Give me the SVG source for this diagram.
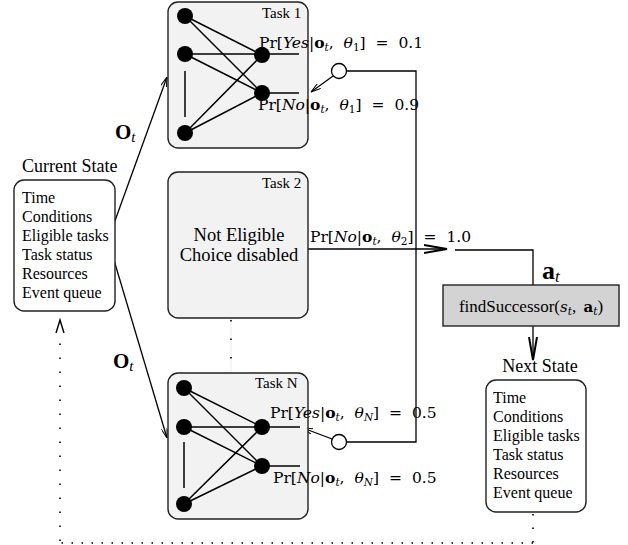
<svg xmlns="http://www.w3.org/2000/svg" width="628" height="545" viewBox="0 0 628 545">
<style>
.box{fill:#f2f2f2;stroke:#222;stroke-width:1.4}
.sbox{fill:#fff;stroke:#222;stroke-width:1.4}
.e{stroke:#000;stroke-width:1.5;fill:none}
.n{fill:#000}
.t{font-family:"Liberation Serif","Times New Roman",serif;fill:#000}
.m{font-family:"DejaVu Serif","Liberation Serif",serif;font-size:15.5px;word-spacing:5px;fill:#000}
.it{font-style:italic}
.bd{font-weight:bold}
.sub{font-size:10.5px;font-style:italic;font-weight:normal}
.subn{font-size:10.5px}
.ln{stroke:#000;stroke-width:1.3;fill:none}
.dot{stroke:#000;stroke-width:1.6;fill:none;stroke-linecap:butt}
</style>
<defs>
<marker id="arrS" viewBox="0 0 10 6" refX="10" refY="3" markerWidth="10" markerHeight="6" markerUnits="userSpaceOnUse" orient="auto">
<path d="M0,0 L10,3 L0,6" fill="none" stroke="#000" stroke-width="1"/>
</marker>
<marker id="arrL" viewBox="0 0 24 10" refX="23" refY="5" markerWidth="24" markerHeight="10" markerUnits="userSpaceOnUse" orient="auto">
<path d="M0,1 L23,5 L0,9" fill="none" stroke="#000" stroke-width="2"/>
</marker>
</defs>

<g id="connectors">
<line class="ln" x1="108" y1="240" x2="167" y2="77" marker-end="url(#arrS)"/>
<line class="ln" x1="108" y1="240" x2="167" y2="438" marker-end="url(#arrS)"/>
<text class="t bd" x="115" y="139" style="font-size:21px">O<tspan class="it" dy="3" style="font-size:15px;font-weight:normal">t</tspan></text>
<text class="t bd" x="113" y="368" style="font-size:21px">O<tspan class="it" dy="3" style="font-size:15px;font-weight:normal">t</tspan></text>
<circle cx="339" cy="71" r="7.5" fill="#fff" stroke="#000" stroke-width="1.3"/>
<circle cx="339" cy="442" r="7.5" fill="#fff" stroke="#000" stroke-width="1.3"/>
<polyline class="ln" points="346.5,71 416,71 416,442 346.5,442"/>
<line class="ln" x1="333" y1="76" x2="311" y2="92" marker-end="url(#arrS)"/>
<line class="ln" x1="332" y1="439" x2="303" y2="428" marker-end="url(#arrS)"/>
<line class="ln" x1="308" y1="249" x2="447" y2="249" marker-end="url(#arrL)"/>
<polyline class="ln" points="455,250 533,250 533,285"/>
<line class="ln" x1="533" y1="326" x2="533" y2="360" marker-end="url(#arrL)"/>
<text class="t bd" x="542" y="279" style="font-size:26px">a<tspan class="it" dy="3" style="font-size:17px;font-weight:normal">t</tspan></text>
<line x1="231" y1="319" x2="231" y2="372" stroke="#eee" stroke-width="1"/>
<line class="dot" x1="231" y1="320" x2="231" y2="372" stroke-dasharray="1.5 17"/>
<line class="dot" x1="533" y1="514" x2="533" y2="543" stroke-dasharray="1.5 12"/>
<line class="dot" x1="533" y1="543" x2="60" y2="543" stroke-dasharray="1.5 8.5"/>
<line class="dot" x1="60" y1="541" x2="60" y2="334" stroke-dasharray="1.5 12.5"/>
<path d="M56,333 L60,320 L64,333" fill="none" stroke="#000" stroke-width="1.4"/>
<text class="m" x="310" y="242">Pr[<tspan class="it">No</tspan>|<tspan class="bd">o</tspan><tspan class="sub" dy="3">t</tspan><tspan dy="-3">, </tspan><tspan class="it">θ</tspan><tspan class="subn" dy="3">2</tspan><tspan dy="-3">] = 1.0</tspan></text>
</g>

<g id="current-state">
<text class="t" x="22" y="172" font-size="18">Current State</text>
<rect class="sbox" x="14" y="180" width="101" height="131" rx="10"/>
<g class="t" font-size="16">
<text x="22" y="203">Time</text>
<text x="22" y="222">Conditions</text>
<text x="22" y="241">Eligible tasks</text>
<text x="22" y="260">Task status</text>
<text x="22" y="279">Resources</text>
<text x="22" y="298">Event queue</text>
</g>
</g>

<g id="task1">
<rect class="box" x="168" y="2" width="140" height="146" rx="10"/>
<text class="t" x="262" y="18" font-size="15">Task 1</text>
<g class="e">
<line x1="185" y1="16" x2="262" y2="55"/>
<line x1="185" y1="16" x2="262" y2="93"/>
<line x1="185" y1="54" x2="299" y2="54"/>
<line x1="185" y1="54" x2="262" y2="93"/>
<line x1="185" y1="133" x2="262" y2="55"/>
<line x1="185" y1="133" x2="262" y2="93"/>
<line x1="262" y1="93" x2="299" y2="93"/>
<line x1="185" y1="71" x2="185" y2="117"/>
</g>
<circle class="n" cx="185" cy="16" r="8"/>
<circle class="n" cx="185" cy="54" r="8"/>
<circle class="n" cx="185" cy="133" r="8"/>
<circle class="n" cx="262" cy="55" r="8"/>
<circle class="n" cx="262" cy="93" r="8"/>
<text class="m" x="259" y="48">Pr[<tspan class="it">Yes</tspan>|<tspan class="bd">o</tspan><tspan class="sub" dy="3">t</tspan><tspan dy="-3">, </tspan><tspan class="it">θ</tspan><tspan class="subn" dy="3">1</tspan><tspan dy="-3">] = 0.1</tspan></text>
<text class="m" x="258" y="110">Pr[<tspan class="it">No</tspan>|<tspan class="bd">o</tspan><tspan class="sub" dy="3">t</tspan><tspan dy="-3">, </tspan><tspan class="it">θ</tspan><tspan class="subn" dy="3">1</tspan><tspan dy="-3">] = 0.9</tspan></text>
</g>

<g id="task2">
<rect class="box" x="168" y="172" width="140" height="146" rx="10"/>
<text class="t" x="262" y="188" font-size="15">Task 2</text>
<text class="t" x="239" y="241" font-size="18.5" text-anchor="middle">Not Eligible</text>
<text class="t" x="239" y="261" font-size="18.5" text-anchor="middle">Choice disabled</text>
</g>

<g id="taskN">
<rect class="box" x="168" y="373" width="140" height="146" rx="10"/>
<text class="t" x="255" y="388" font-size="15">Task N</text>
<g class="e">
<line x1="184" y1="388" x2="262" y2="427"/>
<line x1="184" y1="388" x2="262" y2="466"/>
<line x1="184" y1="427" x2="300" y2="427"/>
<line x1="184" y1="427" x2="262" y2="466"/>
<line x1="184" y1="504" x2="262" y2="427"/>
<line x1="184" y1="504" x2="262" y2="466"/>
<line x1="262" y1="466" x2="300" y2="466"/>
<line x1="184" y1="442" x2="184" y2="488"/>
</g>
<circle class="n" cx="184" cy="388" r="8"/>
<circle class="n" cx="184" cy="427" r="8"/>
<circle class="n" cx="184" cy="504" r="8"/>
<circle class="n" cx="262" cy="427" r="8"/>
<circle class="n" cx="262" cy="466" r="8"/>
<text class="m" x="270" y="418">Pr[<tspan class="it">Yes</tspan>|<tspan class="bd">o</tspan><tspan class="sub" dy="3">t</tspan><tspan dy="-3">, </tspan><tspan class="it">θ</tspan><tspan class="sub" dy="3">N</tspan><tspan dy="-3">] = 0.5</tspan></text>
<text class="m" x="273" y="483">Pr[<tspan class="it">No</tspan>|<tspan class="bd">o</tspan><tspan class="sub" dy="3">t</tspan><tspan dy="-3">, </tspan><tspan class="it">θ</tspan><tspan class="sub" dy="3">N</tspan><tspan dy="-3">] = 0.5</tspan></text>
</g>

<g id="find-successor">
<rect x="443" y="285" width="176" height="41" fill="#d3d3d3" stroke="#222" stroke-width="1.4"/>
<text class="t" x="531" y="312" font-size="17" text-anchor="middle" style="word-spacing:3px">findSuccessor(<tspan class="it" style="font-family:'DejaVu Serif',serif;font-size:15px">s</tspan><tspan dy="3" style="font-size:10.5px;font-style:italic;font-family:'DejaVu Serif',serif">t</tspan><tspan dy="-3">, </tspan><tspan style="font-family:'DejaVu Serif',serif;font-size:15px;font-weight:bold">a</tspan><tspan dy="3" style="font-size:10.5px;font-style:italic;font-family:'DejaVu Serif',serif">t</tspan><tspan dy="-3">)</tspan></text>
</g>

<g id="next-state">
<text class="t" x="540" y="372" font-size="18" text-anchor="middle">Next State</text>
<rect class="sbox" x="486" y="380" width="100" height="132" rx="10"/>
<g class="t" font-size="16">
<text x="493" y="403">Time</text>
<text x="493" y="422">Conditions</text>
<text x="493" y="441">Eligible tasks</text>
<text x="493" y="460">Task status</text>
<text x="493" y="479">Resources</text>
<text x="493" y="498">Event queue</text>
</g>
</g>
</svg>
